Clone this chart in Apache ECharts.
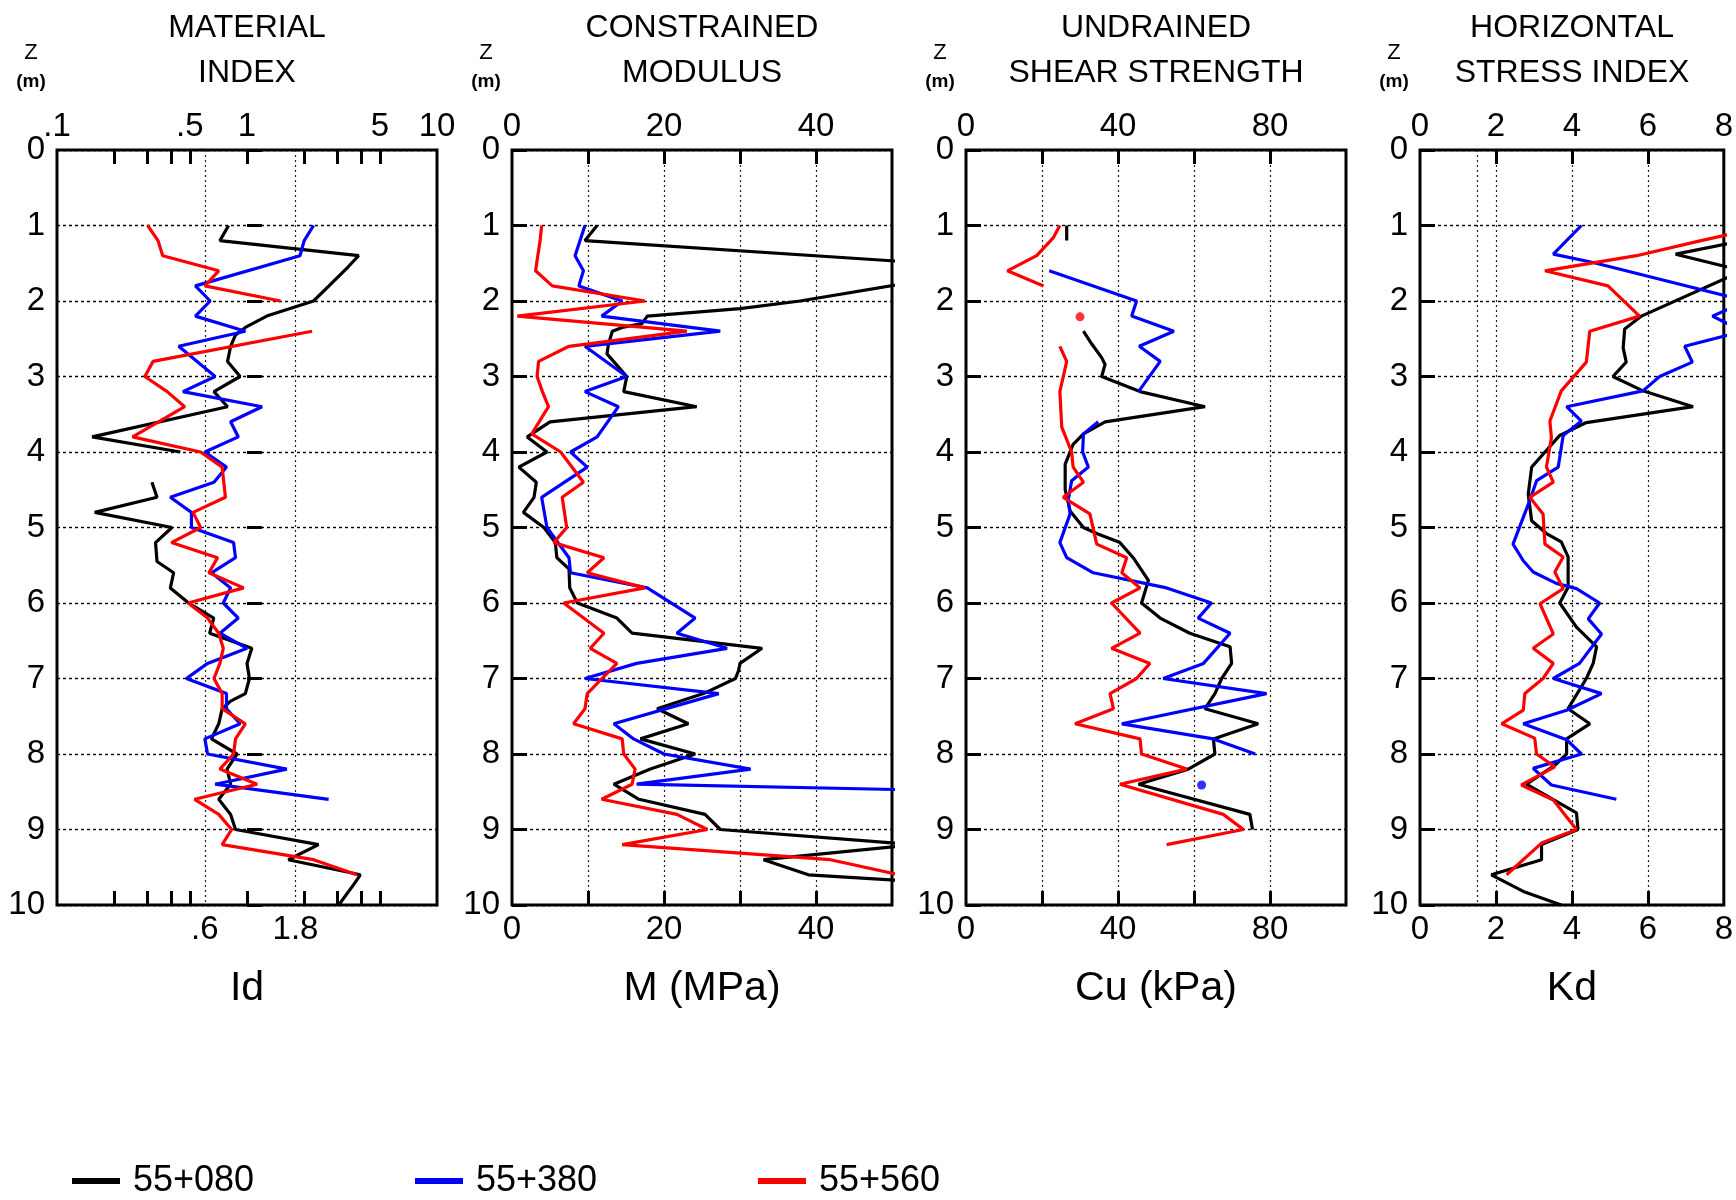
<!DOCTYPE html>
<html>
<head>
<meta charset="utf-8">
<script src="https://cdn.jsdelivr.net/npm/echarts@6/dist/echarts.min.js"></script>
<style>html,body{margin:0;padding:0;background:#fff}#c{width:1736px;height:1200px}</style>
</head>
<body>
<div id="c"></div>
<script>
// ---------------- DATA ([depth m, value]; null = gap) ----------------
const stations = ['55+080', '55+380', '55+560'];

// Material index Id
const id080 = [[1.0,0.80],[1.2,0.72],[1.4,3.87],[1.55,3.4],[1.8,2.7],[2.0,2.24],[2.2,1.27],[2.35,0.98],[2.45,0.87],[2.6,0.82],[2.8,0.79],[3.0,0.92],[3.2,0.67],[3.4,0.79],[3.8,0.153],[4.0,0.446],null,[4.4,0.316],[4.6,0.336],[4.8,0.158],[5.0,0.403],[5.2,0.33],[5.45,0.336],[5.6,0.411],[5.8,0.395],[6.0,0.493],[6.2,0.668],[6.4,0.636],[6.6,1.06],[6.8,1.0],[7.0,1.03],[7.2,0.98],[7.3,0.82],[7.4,0.74],[7.6,0.71],[7.8,0.65],[8.0,0.886],[8.2,0.785],[8.4,0.82],[8.6,0.71],[8.8,0.82],[9.0,0.87],[9.2,2.38],[9.4,1.65],[9.6,3.95],[9.73,3.64],[10.0,3.04]];
const id380 = [[1.0,2.24],[1.2,2.0],[1.4,1.9],[1.8,0.535],[2.0,0.64],[2.2,0.535],[2.4,0.98],[2.6,0.437],[3.0,0.68],[3.2,0.46],[3.4,1.2],[3.6,0.82],[3.8,0.90],[4.0,0.60],[4.2,0.78],[4.4,0.67],[4.6,0.395],[4.8,0.51],[5.0,0.51],[5.2,0.85],[5.4,0.87],[5.6,0.65],[5.8,0.82],[6.0,0.75],[6.2,0.90],[6.4,0.72],[6.6,1.0],[6.8,0.62],[7.0,0.48],[7.2,0.78],[7.4,0.78],[7.6,0.92],[7.8,0.60],[8.0,0.62],[8.2,1.62],[8.4,0.68],[8.6,2.69]];
const id560 = [[1.0,0.30],[1.2,0.34],[1.4,0.36],[1.6,0.71],[1.8,0.60],[2.0,1.50],null,[2.4,2.20],[2.8,0.32],[3.0,0.29],[3.2,0.38],[3.4,0.47],[3.8,0.25],[4.0,0.57],[4.2,0.74],[4.6,0.77],[4.8,0.52],[5.0,0.57],[5.2,0.40],[5.4,0.70],[5.6,0.63],[5.8,0.96],[6.0,0.49],[6.2,0.62],[6.4,0.71],[6.6,0.75],[6.8,0.72],[7.0,0.67],[7.2,0.74],[7.4,0.74],[7.6,0.98],[7.8,0.87],[8.0,0.85],[8.2,0.72],[8.4,1.13],[8.6,0.53],[8.8,0.71],[9.0,0.83],[9.2,0.74],[9.4,2.24],[9.6,3.79]];

// Constrained modulus M (MPa)
const m080 = [[1.0,11.2],[1.2,9.6],[1.56,64],[2.0,37.9],[2.1,30.0],[2.2,17.8],[2.3,17.1],[2.35,14.5],[2.4,13.2],[2.57,12.7],[2.7,12.5],[3.0,15.1],[3.2,14.7],[3.4,24.3],[3.6,5.0],[3.8,2.0],[4.0,4.6],[4.2,0.9],[4.4,3.2],[4.6,2.9],[4.8,1.5],[5.0,4.2],[5.2,5.7],[5.4,5.9],[5.55,7.5],[5.8,7.6],[6.0,8.6],[6.2,13.8],[6.4,15.8],[6.6,32.9],[6.8,30.0],[6.9,29.8],[7.0,29.4],[7.2,25.2],[7.4,19.1],[7.6,23.2],[7.8,16.9],[8.0,24.1],[8.2,18.2],[8.4,13.4],[8.6,16.7],[8.8,25.4],[9.0,27.4],[9.2,53],[9.4,33.1],[9.6,39.0],[9.7,55]];
const m380 = [[1.0,9.6],[1.4,8.3],[1.6,9.4],[1.8,8.8],[2.0,14.5],[2.2,11.8],[2.4,27.4],[2.6,9.6],[3.0,15.1],[3.2,9.6],[3.4,14.0],[3.8,11.2],[4.0,7.7],[4.2,9.9],[4.6,3.9],[5.0,4.6],[5.4,7.5],[5.6,7.7],[5.8,17.8],[6.2,24.1],[6.4,21.7],[6.6,28.3],[6.8,16.4],[7.0,9.6],[7.2,27.2],[7.6,13.4],[7.8,16.0],[8.0,20.0],[8.2,31.4],[8.4,16.4],[8.5,65]];
const m560 = [[1.0,3.9],[1.2,3.7],[1.6,3.1],[1.8,5.3],[2.0,17.5],[2.2,0.7],[2.4,23.0],[2.6,7.5],[2.8,3.5],[3.0,3.3],[3.2,4.0],[3.4,4.8],[3.76,2.6],[4.0,6.4],[4.4,9.4],[4.6,6.6],[5.0,7.2],[5.2,5.5],[5.4,12.1],[5.6,9.9],[5.8,17.5],[6.0,6.8],[6.4,12.1],[6.6,10.3],[6.8,13.8],[7.2,9.9],[7.4,9.6],[7.6,8.1],[7.8,14.5],[8.0,14.7],[8.2,16.2],[8.4,15.8],[8.6,11.8],[8.8,21.7],[9.0,25.7],[9.2,14.5],[9.4,41.9],[9.6,51]];

// Undrained shear strength Cu (kPa)
const cu080 = [[1.0,26.5],[1.2,26.5],null,[2.4,30.9],[2.57,33.1],[2.75,35.7],[2.84,36.6],[3.0,35.7],[3.2,45.8],[3.4,62.9],[3.6,36.6],[3.76,30.9],[3.9,28.2],[4.16,26.1],[4.5,26.1],[4.78,27.4],[5.0,30.9],[5.08,34.4],[5.2,40.5],[5.4,44.0],[5.7,48.0],[6.0,46.2],[6.2,51.1],[6.4,58.9],[6.58,69.5],[6.8,69.9],[7.0,67.3],[7.2,65.5],[7.4,62.9],[7.6,76.9],[7.8,65.1],[8.0,65.5],[8.2,58.5],[8.4,45.4],[8.8,74.7],[9.0,75.4]];
const cu380 = [[1.6,21.9],[2.0,44.9],[2.2,43.6],[2.4,54.7],[2.6,45.6],[2.8,51.1],[3.2,45.4],null,[3.6,34.8],[3.76,30.9],[4.0,30.7],[4.2,32.2],[4.38,27.8],[4.64,26.9],[4.82,27.4],[5.2,24.7],[5.4,26.5],[5.6,33.5],[5.8,52.8],[6.0,64.6],[6.2,61.1],[6.4,69.5],[6.8,62.5],[7.0,51.9],[7.2,79.1],[7.6,41.0],[7.8,65.1],[8.0,76.1]];
const cu560 = [[1.0,24.7],[1.16,23.0],[1.4,18.6],[1.6,10.9],[1.8,20.4],null,[2.6,24.7],[2.8,26.5],[3.0,25.6],[3.2,24.7],[3.67,25.2],[4.0,27.8],[4.2,28.2],[4.4,30.9],[4.6,25.6],[4.82,32.6],[5.22,34.4],[5.4,42.3],[5.6,41.0],[5.8,45.8],[6.0,38.3],[6.4,45.8],[6.6,38.3],[6.8,48.4],[7.0,44.9],[7.2,37.9],[7.4,38.8],[7.6,28.7],[7.8,45.8],[8.0,46.2],[8.2,58.1],[8.4,40.5],[8.8,67.7],[9.0,73.0],[9.2,52.8]];
const cu380Dots = [[8.41,62.0]];
const cu560Dots = [[2.21,30.0]];

// Horizontal stress index Kd
const kd080 = [[1.2,8.5],[1.38,6.73],[1.6,8.5],[2.2,5.83],[2.37,5.39],[2.62,5.35],[2.81,5.43],[3.0,5.08],[3.19,5.87],[3.4,7.19],[3.61,4.38],[3.78,3.68],[4.03,3.24],[4.2,2.94],[4.56,2.85],[4.91,2.94],[5.08,3.33],[5.19,3.72],[5.39,3.90],[5.79,3.90],[6.0,3.68],[6.32,4.12],[6.58,4.65],[6.8,4.56],[7.0,4.38],[7.4,3.90],[7.6,4.47],[7.8,3.86],[8.0,3.86],[8.15,3.55],[8.4,2.80],[8.78,4.12],[9.0,4.16],[9.2,3.20],[9.4,3.20],[9.6,1.88],[9.82,2.72],[10.0,3.72]];
const kd380 = [[1.0,4.25],[1.38,3.51],[1.49,4.56],[2.0,8.6],[2.2,7.7],[2.4,8.5],[2.6,6.97],[2.81,7.17],[3.0,6.31],[3.19,5.87],[3.4,3.86],[3.59,4.25],[3.78,3.77],[4.2,3.64],[4.38,3.07],[4.64,2.89],[5.22,2.45],[5.44,2.72],[5.59,2.98],[5.74,3.59],[5.81,4.12],[6.0,4.73],[6.21,4.43],[6.41,4.78],[6.8,4.2],[7.0,3.51],[7.2,4.78],[7.42,3.86],[7.6,2.72],[7.81,3.86],[8.0,4.25],[8.19,2.98],[8.41,3.46],[8.6,5.17]];
const kd560 = [[1.0,9.2],[1.2,7.4],[1.4,5.7],[1.6,3.29],[1.8,4.95],[2.2,5.78],[2.4,4.47],[2.81,4.38],[3.19,3.72],[3.59,3.42],[3.81,3.46],[4.2,3.33],[4.4,3.51],[4.6,2.89],[4.82,3.24],[5.22,3.29],[5.39,3.77],[5.59,3.55],[5.81,3.77],[6.01,3.16],[6.41,3.51],[6.6,2.98],[6.8,3.51],[7.0,3.24],[7.2,2.76],[7.42,2.72],[7.6,2.15],[7.79,3.02],[8.0,3.07],[8.17,3.55],[8.41,2.67],[8.61,3.51],[9.0,4.12],[9.18,3.20],[9.6,2.28]];

// Tick values and tick labels
const idTicks = [0.2,0.3,0.4,0.5,1,2,3,4,5];
const idTopLabels = [0.1,0.5,1,5,10];
const idTopText = ['.1','.5','1','5','10'];
const idBottomLabels = [0.6,1.8];
const idBottomText = ['.6','1.8'];
const idGrid = [0.6,1.8];
const mTicks = [10,20,30,40];
const mLabels = [0,20,40];
const cuTicks = [20,40,60,80];
const cuLabels = [0,40,80];
const kdTicks = [2,4,6];
const kdLabels = [0,2,4,6,8];
const kdGrid = [1.5,2,4,6];

// ---------------- CHART ----------------
const FONT = '"Liberation Sans", Arial, Helvetica, sans-serif';
const COLORS = ['#000000', '#0000ff', '#ff0000'];

const L = v => Math.log10(v);
const panels = [
  {title: 'MATERIAL\nINDEX', name: 'Id', left: 57, width: 380, log: true, min: 0.1, max: 10,
   ticks: idTicks, topLab: idTopLabels, topText: idTopText, botLab: idBottomLabels, botText: idBottomText,
   grid: idGrid, data: [id080, id380, id560]},
  {title: 'CONSTRAINED\nMODULUS', name: 'M (MPa)', left: 512, width: 380, log: false, min: 0, max: 50,
   ticks: mTicks, topLab: mLabels, botLab: mLabels, grid: mTicks, data: [m080, m380, m560]},
  {title: 'UNDRAINED\nSHEAR STRENGTH', name: 'Cu (kPa)', left: 966, width: 380, log: false, min: 0, max: 100,
   ticks: cuTicks, topLab: cuLabels, botLab: cuLabels, grid: cuTicks, data: [cu080, cu380, cu560]},
  {title: 'HORIZONTAL\nSTRESS INDEX', name: 'Kd', left: 1420, width: 304, log: false, min: 0, max: 8,
   ticks: kdTicks, topLab: kdLabels, botLab: kdLabels, grid: kdGrid, data: [kd080, kd380, kd560]}
];

const TOP = 150, HEIGHT = 755;
const grids = [], xAxes = [], yAxes = [], series = [], titles = [], graphics = [];

panels.forEach((p, pi) => {
  grids.push({left: p.left, top: TOP, width: p.width, height: HEIGHT, show: true,
              borderColor: '#000', borderWidth: 3, backgroundColor: 'rgba(0,0,0,0)', containLabel: false});
  const f = p.log ? L : (v => v);
  const dmin = f(p.min), dmax = f(p.max);
  const fmt = (vals, texts) => (v) => {
    const i = vals.findIndex(t => Math.abs(f(t) - v) < 1e-6);
    if (i < 0) return '';
    return texts ? texts[i] : String(vals[i]);
  };
  // data axis (hidden)
  xAxes.push(p.log
    ? {type: 'log', logBase: 10, gridIndex: pi, min: p.min, max: p.max, show: false}
    : {type: 'value', gridIndex: pi, min: p.min, max: p.max, show: false});
  // top decoration axis
  xAxes.push({type: 'value', gridIndex: pi, position: 'top', min: dmin, max: dmax,
    axisLine: {show: false},
    axisTick: {show: true, inside: true, length: 14, lineStyle: {color: '#000', width: 3}, customValues: p.ticks.map(f)},
    axisLabel: {show: true, margin: 7, fontSize: 33, color: '#000', fontFamily: FONT,
                customValues: p.topLab.map(f), formatter: fmt(p.topLab, p.topText)},
    splitLine: {show: false}});
  // bottom decoration axis
  xAxes.push({type: 'value', gridIndex: pi, position: 'bottom', min: dmin, max: dmax,
    name: p.name, nameLocation: 'middle', nameGap: 63,
    nameTextStyle: {fontSize: 41, color: '#000', fontFamily: FONT},
    axisLine: {show: false},
    axisTick: {show: true, inside: true, length: 14, lineStyle: {color: '#000', width: 3}, customValues: p.ticks.map(f)},
    axisLabel: {show: true, margin: 8, fontSize: 33, color: '#000', fontFamily: FONT,
                customValues: p.botLab.map(f), formatter: fmt(p.botLab, p.botText)},
    splitLine: {show: false}});
  // vertical grid lines axis
  xAxes.push({type: 'value', gridIndex: pi, position: 'bottom', min: dmin, max: dmax,
    axisLine: {show: false}, axisLabel: {show: false},
    axisTick: {show: false, customValues: p.grid.map(f)},
    splitLine: {show: true, lineStyle: {color: '#222', width: 1.2, type: [2, 3]}}});
  yAxes.push({type: 'value', gridIndex: pi, inverse: true, min: 0, max: 10, interval: 1,
    axisLine: {show: false},
    axisTick: {show: true, inside: true, length: 15, lineStyle: {color: '#000', width: 3}},
    axisLabel: {show: true, margin: 12, fontSize: 33, color: '#000', fontFamily: FONT},
    splitLine: {show: true, lineStyle: {color: '#000', width: 1.4, type: [3, 3]}}});

  p.data.forEach((arr, si) => {
    series.push({type: 'line', name: stations[si], xAxisIndex: pi * 4, yAxisIndex: pi,
      data: arr.map(r => r ? [r[1], r[0]] : [null, null]),
      showSymbol: false, symbol: 'none', connectNulls: false, clip: true, silent: true,
      lineStyle: {color: COLORS[si], width: 3.2}, itemStyle: {color: COLORS[si]}, z: 3 + si});
  });

  titles.push({text: p.title, left: p.left + p.width / 2, top: 6, textAlign: 'center', padding: 0,
    textStyle: {fontSize: 32, fontWeight: 'normal', lineHeight: 45, color: '#000', fontFamily: FONT}});
  graphics.push({type: 'text', x: p.left - 26, y: 53,
    style: {text: 'Z', fontSize: 22, fontFamily: FONT, fill: '#000', textAlign: 'center', textVerticalAlign: 'middle'}});
  graphics.push({type: 'text', x: p.left - 26, y: 82,
    style: {text: '(m)', fontSize: 19, fontWeight: 'bold', fontFamily: FONT, fill: '#000', textAlign: 'center', textVerticalAlign: 'middle'}});
});

// isolated Cu readings
series.push({type: 'scatter', name: stations[1], xAxisIndex: 8, yAxisIndex: 2, symbolSize: 9,
  data: cu380Dots.map(r => [r[1], r[0]]), itemStyle: {color: COLORS[1]}, silent: true, z: 6});
series.push({type: 'scatter', name: stations[2], xAxisIndex: 8, yAxisIndex: 2, symbolSize: 9,
  data: cu560Dots.map(r => [r[1], r[0]]), itemStyle: {color: COLORS[2]}, silent: true, z: 6});

const legendLeft = [72, 415, 758];
const legends = stations.map((s, i) => ({
  data: [s], left: legendLeft[i], top: 1163, icon: 'rect', itemWidth: 48, itemHeight: 6,
  selectedMode: false, padding: 0,
  textStyle: {fontSize: 36, color: '#000', fontFamily: FONT, padding: [0, 0, 0, 8]}
}));

const chart = echarts.init(document.getElementById('c'), null, {renderer: 'canvas'});
chart.setOption({
  animation: false,
  backgroundColor: '#ffffff',
  title: titles,
  grid: grids,
  xAxis: xAxes,
  yAxis: yAxes,
  legend: legends,
  graphic: graphics,
  series: series
});
</script>
</body>
</html>
